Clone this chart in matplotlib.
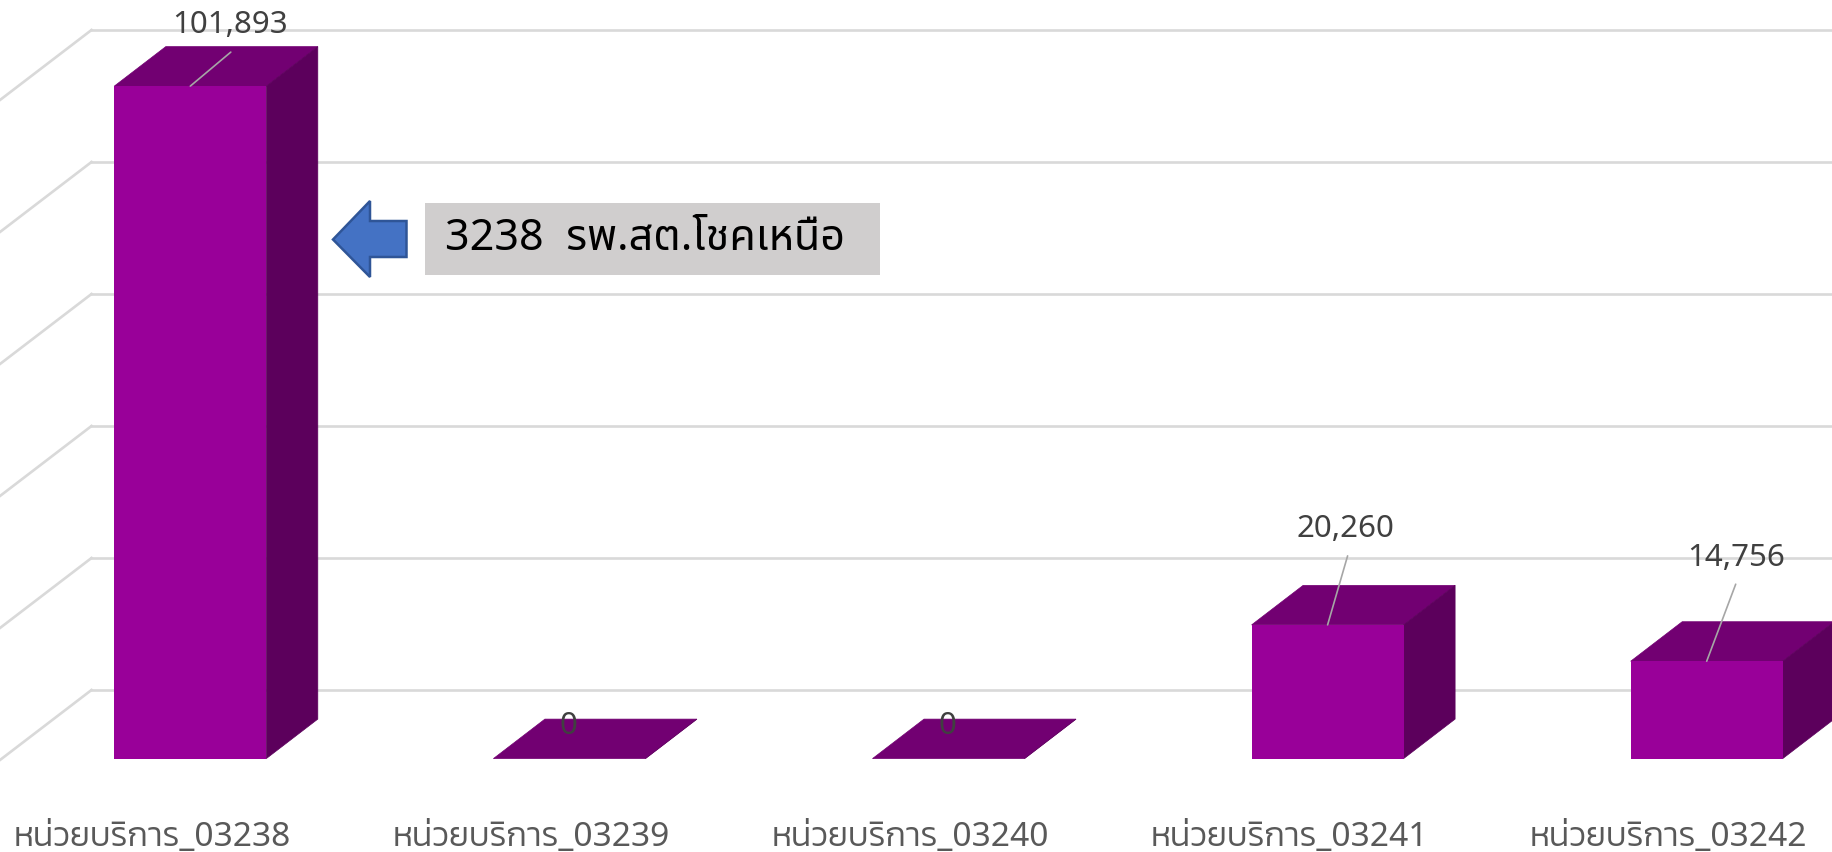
import matplotlib
matplotlib.use('Agg')
import matplotlib.pyplot as plt
from matplotlib.patches import Polygon, Rectangle

# data
categories = ['หน่วยบริการ_03238', 'หน่วยบริการ_03239', 'หน่วยบริการ_03240', 'หน่วยบริการ_03241', 'หน่วยบริการ_03242']
values = [101893, 0, 0, 20260, 14756]
grid_values = [0, 20000, 40000, 60000, 80000, 100000]
note = '3238  รพ.สต.โชคเหนือ'

W, H = 1832, 852
px_per_cat = 379.1
px_per_val = 0.0066
base_y = 758.6
first_x = 190.3

bar_width = 152 / px_per_cat
depth_x = 51.5 / px_per_cat
depth_y = 39.5 / px_per_val
wall_y = 68.6 / px_per_val
wall_x = (91.5 - first_x) / px_per_cat
floor_x = 91.5 / px_per_cat
floor_y = 70 / px_per_val

front_color = '#990099'
top_color = '#720072'
side_color = '#5C005C'
grid_color = '#D9D9D9'
light = dict(family=['Noto Sans', 'Kanit'], weight=300)

fig = plt.figure(figsize=(W / 100, H / 100), dpi=100)
ax = fig.add_axes([0, 0, 1, 1])
ax.set_xlim(-first_x / px_per_cat, (W - first_x) / px_per_cat)
ax.set_ylim(-(H - base_y) / px_per_val, base_y / px_per_val)
ax.axis('off')

# back wall and side wall grid
for g in grid_values:
  y = g + wall_y
  ax.plot([wall_x, ax.get_xlim()[1]], [y, y], color=grid_color, lw=1.9, zorder=1)
  ax.plot([wall_x, wall_x - floor_x], [y, y - floor_y], color=grid_color, lw=1.9, zorder=1)

xs = list(range(len(categories)))

for x, v in zip(xs, values):
  l, r = x - bar_width / 2, x + bar_width / 2
  top = [(l, v), (r, v), (r + depth_x, v + depth_y), (l + depth_x, v + depth_y)]
  side = [(r, 0), (r + depth_x, depth_y), (r + depth_x, v + depth_y), (r, v)]
  ax.add_patch(Polygon(top, closed=True, color=top_color, lw=0.5, zorder=2))
  ax.add_patch(Polygon(side, closed=True, color=side_color, lw=0.5, zorder=2))

ax.bar(xs, values, width=bar_width, color=front_color, zorder=3)

# value labels with leader lines, offsets in pixels from the top of the front face
label_off = [(39.5, 61), (-1, 33), (-1, 33), (18, 96), (29, 103)]
leader_off = [(40.5, 34), None, None, (20, 69), (29, 77)]
for x, v, lo, le in zip(xs, values, label_off, leader_off):
  if le is not None:
    ax.annotate('', xy=(x, v), xytext=le, textcoords='offset pixels',
                arrowprops=dict(arrowstyle='-', color='#A6A6A6', lw=1.2, shrinkA=0, shrinkB=0), zorder=4)
  ax.annotate(f'{v:,}', xy=(x, v), xytext=lo, textcoords='offset pixels', ha='center', va='center',
              color='#404040', fontsize=22.5, zorder=5, **light)

for x, c in zip(xs, categories):
  ax.annotate(c, xy=(x, 0), xytext=(-38.5, -79), textcoords='offset pixels', ha='center', va='center',
              color='#595959', fontsize=24.2, **light)

# callout, placed on the page
def page(x, y):
  return x / W, 1 - y / H

arrow = [(333, 239.5), (370, 201), (370, 221), (406.5, 221), (406.5, 257), (370, 257), (370, 277)]
fig.add_artist(Polygon([page(*p) for p in arrow], closed=True, facecolor='#4472C4', edgecolor='#2F5597',
                       lw=1.8, transform=fig.transFigure))
x0, y1 = page(425, 275)
x1, y0 = page(880, 203)
fig.add_artist(Rectangle((x0, y1), x1 - x0, y0 - y1, facecolor='#D0CECE', edgecolor='none', transform=fig.transFigure))
tx, ty = page(445, 239)
fig.text(tx, ty, note, ha='left', va='center', color='black', fontsize=31, family='Noto Sans Thai')

fig.savefig('out.png', dpi=100)
